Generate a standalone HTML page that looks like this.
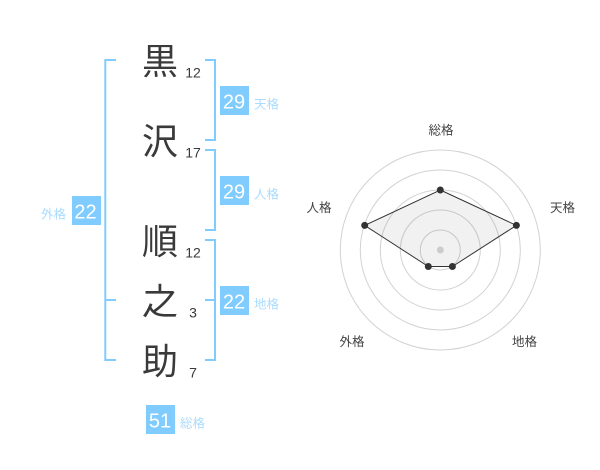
<!DOCTYPE html>
<html><head><meta charset="utf-8"><style>
html,body{margin:0;padding:0;background:#fff}
svg{display:block}
text{font-family:"Liberation Sans","Noto Sans CJK JP",sans-serif}
.k{font-size:36px;fill:#3a3a3a;text-anchor:middle}
.n{font-size:14px;fill:#3a3a3a;text-anchor:middle}
.b{font-size:20px;fill:#fff;text-anchor:middle}
.l{font-size:12.5px;fill:#aadcff}
.r{font-size:12.5px;fill:#444;text-anchor:middle}
</style></head><body>
<svg width="600" height="470" viewBox="0 0 600 470" xmlns="http://www.w3.org/2000/svg">
<g fill="none" stroke="#80ccff" stroke-width="2">
<path d="M116 60H105.3V360H116M105.3 300H116"/>
<path d="M205 60H215V140H205"/>
<path d="M205 150H215V230H205"/>
<path d="M205 240H215V360H205M205 300H215"/>
</g>
<text class="k" x="160" y="74">黒</text>
<text class="k" x="160" y="154">沢</text>
<text class="k" x="160" y="254">順</text>
<text class="k" x="160" y="314">之</text>
<text class="k" x="160" y="374">助</text>
<text class="n" x="193" y="77.5">12</text>
<text class="n" x="193" y="157.5">17</text>
<text class="n" x="193" y="257.5">12</text>
<text class="n" x="193" y="317.5">3</text>
<text class="n" x="193" y="377.5">7</text>
<g fill="#80ccff">
<rect x="220" y="86" width="29" height="29"/>
<rect x="220" y="176" width="29" height="29"/>
<rect x="72" y="196" width="29" height="29"/>
<rect x="220" y="286" width="29" height="29"/>
<rect x="146" y="405" width="29" height="29"/>
</g>
<text class="b" x="234" y="108.5">29</text>
<text class="b" x="234" y="198.5">29</text>
<text class="b" x="85.5" y="218.5">22</text>
<text class="b" x="234" y="308.5">22</text>
<text class="b" x="160" y="427.5">51</text>
<text class="l" x="254" y="108.5">天格</text>
<text class="l" x="254" y="198.5">人格</text>
<text class="l" x="41" y="218.5">外格</text>
<text class="l" x="254" y="308.5">地格</text>
<text class="l" x="180" y="427.5">総格</text>
<g fill="none" stroke="#d2d2d2" stroke-width="1">
<circle cx="440.3" cy="250" r="20"/>
<circle cx="440.3" cy="250" r="40"/>
<circle cx="440.3" cy="250" r="60"/>
<circle cx="440.3" cy="250" r="80"/>
<circle cx="440.3" cy="250" r="100"/>
</g>
<polygon points="440.3,190 516.4,225.4 452.4,266.5 428.3,266.5 364.7,225.4" fill="#333" fill-opacity=".07" stroke="#333" stroke-width="1"/>
<circle cx="440.3" cy="250" r="3.5" fill="#ccc"/>
<g fill="#333">
<circle cx="440.3" cy="190" r="3.5"/>
<circle cx="516.4" cy="225.4" r="3.5"/>
<circle cx="452.4" cy="266.5" r="3.5"/>
<circle cx="428.3" cy="266.5" r="3.5"/>
<circle cx="364.7" cy="225.4" r="3.5"/>
</g>
<text class="r" x="441" y="134.5">総格</text>
<text class="r" x="562.5" y="212">天格</text>
<text class="r" x="319" y="212">人格</text>
<text class="r" x="352" y="346">外格</text>
<text class="r" x="524.5" y="346">地格</text>
</svg>
</body></html>
